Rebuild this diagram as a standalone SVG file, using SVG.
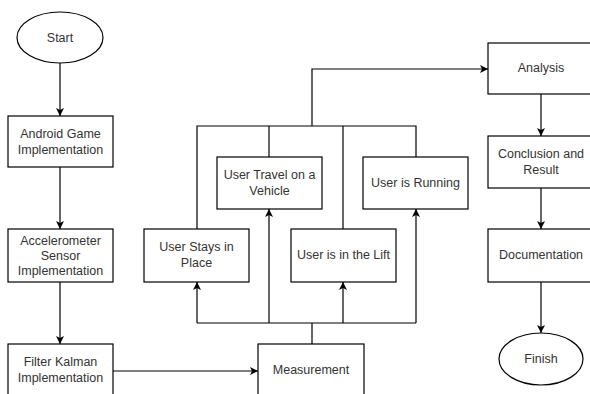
<svg xmlns="http://www.w3.org/2000/svg" width="590" height="394" viewBox="0 0 590 394">
<style>
.box{fill:#fff;stroke:#000;stroke-width:1.2}
.t{font-family:"Liberation Sans",Arial,sans-serif;font-size:12.5px;fill:#333;text-anchor:middle}
.c{fill:none;stroke:#000;stroke-width:1.2}
</style>
<defs>
<marker id="a" markerUnits="userSpaceOnUse" markerWidth="10" markerHeight="10" refX="8" refY="4" orient="auto">
<path d="M0,0 L8,4 L0,8 L2,4 z" fill="#000"/>
</marker>
</defs>
<rect width="590" height="394" fill="#fff"/>
<g id="connectors">
<path class="c" d="M60,63 V116" marker-end="url(#a)"/>
<path class="c" d="M60,167 V229" marker-end="url(#a)"/>
<path class="c" d="M60,282 V344" marker-end="url(#a)"/>
<path class="c" d="M113,371 H258" marker-end="url(#a)"/>
<path class="c" d="M312,344 V323"/>
<path class="c" d="M197,323 H416"/>
<path class="c" d="M197,323 V282" marker-end="url(#a)"/>
<path class="c" d="M269,323 V209" marker-end="url(#a)"/>
<path class="c" d="M343,323 V282" marker-end="url(#a)"/>
<path class="c" d="M416,323 V209" marker-end="url(#a)"/>
<path class="c" d="M197,229 V126 H416 V157"/>
<path class="c" d="M269,157 V126"/>
<path class="c" d="M343,229 V126"/>
<path class="c" d="M312,126 V69 H488" marker-end="url(#a)"/>
<path class="c" d="M541,94 V136" marker-end="url(#a)"/>
<path class="c" d="M541,188 V229" marker-end="url(#a)"/>
<path class="c" d="M541,282 V333" marker-end="url(#a)"/>
</g>
<g id="start"><ellipse class="box" cx="60" cy="37.5" rx="43" ry="25.5"/><text class="t" x="60" y="42">Start</text></g>
<g id="android"><rect class="box" x="8" y="116" width="105" height="51"/><text class="t" x="60.5" y="138">Android Game</text><text class="t" x="60.5" y="154">Implementation</text></g>
<g id="accel"><rect class="box" x="8" y="229" width="105" height="53"/><text class="t" x="60.5" y="245">Accelerometer</text><text class="t" x="60.5" y="260">Sensor</text><text class="t" x="60.5" y="275">Implementation</text></g>
<g id="kalman"><rect class="box" x="8" y="344" width="105" height="54"/><text class="t" x="60.5" y="366">Filter Kalman</text><text class="t" x="60.5" y="382">Implementation</text></g>
<g id="measurement"><rect class="box" x="258" y="344" width="106" height="54"/><text class="t" x="311" y="374">Measurement</text></g>
<g id="stays"><rect class="box" x="144" y="229" width="105" height="53"/><text class="t" x="196.5" y="251">User Stays in</text><text class="t" x="196.5" y="267">Place</text></g>
<g id="travel"><rect class="box" x="217" y="157" width="105" height="52"/><text class="t" x="269.5" y="179">User Travel on a</text><text class="t" x="269.5" y="195">Vehicle</text></g>
<g id="lift"><rect class="box" x="291" y="229" width="105" height="53"/><text class="t" x="343.5" y="259">User is in the Lift</text></g>
<g id="running"><rect class="box" x="363" y="157" width="105" height="52"/><text class="t" x="415.5" y="187">User is Running</text></g>
<g id="analysis"><rect class="box" x="488" y="43" width="105" height="51"/><text class="t" x="541" y="72">Analysis</text></g>
<g id="conclusion"><rect class="box" x="488" y="136" width="105" height="52"/><text class="t" x="541" y="158">Conclusion and</text><text class="t" x="541" y="174">Result</text></g>
<g id="documentation"><rect class="box" x="488" y="229" width="105" height="53"/><text class="t" x="541" y="259">Documentation</text></g>
<g id="finish"><ellipse class="box" cx="541" cy="359" rx="42" ry="26"/><text class="t" x="541" y="363">Finish</text></g>
</svg>
